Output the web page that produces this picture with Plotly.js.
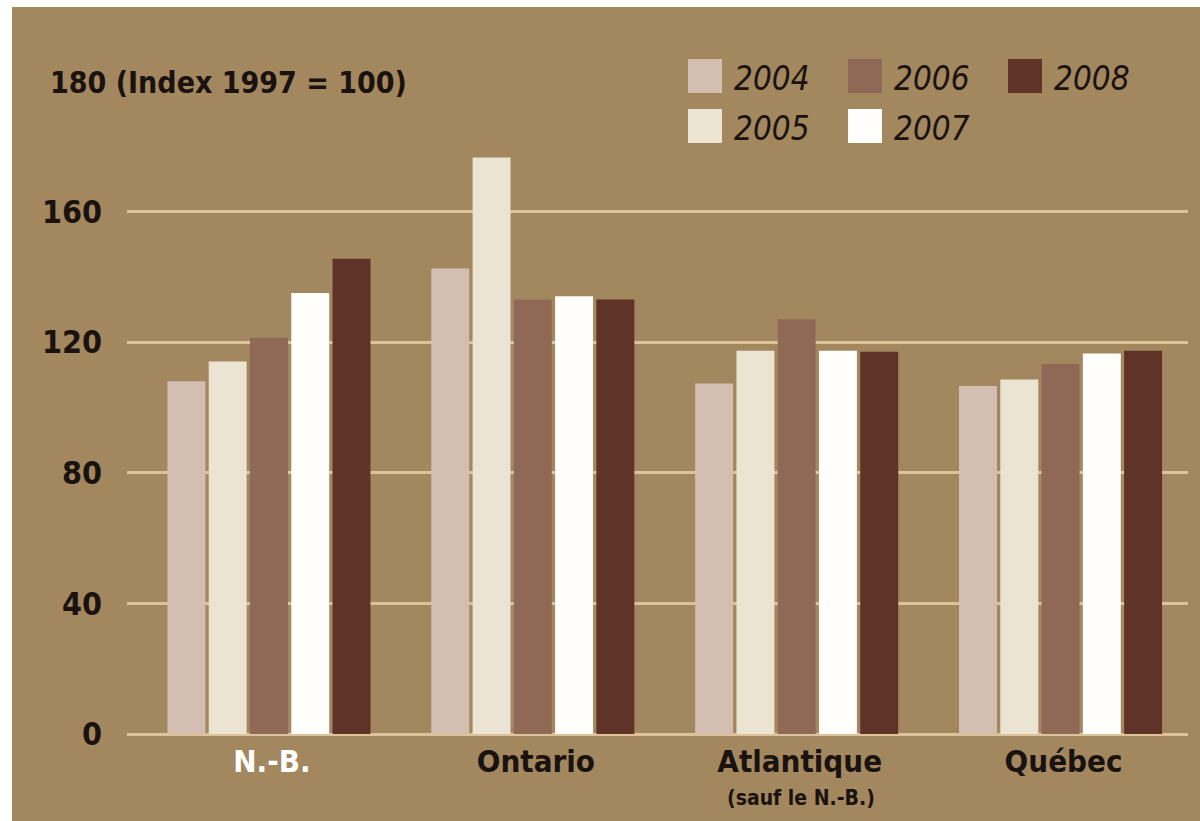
<!DOCTYPE html>
<html>
<head>
<meta charset="utf-8">
<script src="https://cdn.plot.ly/plotly-3.0.1.min.js"></script>
<style>
  html, body { margin: 0; padding: 0; background: #ffffff; }
  #chart { position: absolute; left: 12px; top: 7px; width: 1188px; height: 814px; }
</style>
</head>
<body>
<div id="chart"></div>
<script>
// Index des prix (1997 = 100), par région et par année
const regions = ['N.-B.', 'Ontario', 'Atlantique', 'Québec'];
const regionNotes = ['', '', '(sauf le N.-B.)', ''];
const years = ['2004', '2005', '2006', '2007', '2008'];
const v2004 = [108.0, 142.5, 107.3, 106.5];
const v2005 = [114.0, 176.5, 117.3, 108.5];
const v2006 = [121.3, 133.0, 127.0, 113.3];
const v2007 = [135.0, 134.0, 117.3, 116.5];
const v2008 = [145.5, 133.0, 117.0, 117.3];
const yTicks = [0, 40, 80, 120, 160];
const axisTitle = '180 (Index 1997 = 100)';

const series = [v2004, v2005, v2006, v2007, v2008];
const barColors = ['#d4beb2', '#ebe4d3', '#8f6856', '#fffefa', '#5f3328'];

const FONT = '"Liberation Sans Narrow", "DejaVu Sans Condensed", "Arial Narrow", sans-serif';
const INK = '#1a120e';
const BG = '#a2875f';
const GRID = '#dcc39b';

// plot frame in pixels, inside the chart div
const W = 1188, H = 814;
const M = { l: 115, r: 12, t: 139, b: 87 };
const PW = W - M.l - M.r, PH = H - M.t - M.b;
const px = x => (x - 12 - M.l) / PW;           // page x -> paper x
const py = y => (H - M.b - (y - 7)) / PH;       // page y -> paper y

const xs = regions.map((_, i) => i);

const traces = years.map((yr, k) => ({
  type: 'bar',
  name: yr,
  x: xs,
  y: series[k],
  marker: { color: barColors[k], line: { width: 0 } },
  hoverinfo: 'x+y+name',
  showlegend: false
}));

// first region is highlighted in white
const tickText = regions.map((r, i) =>
  i === 0 ? '<span style="color:#ffffff">' + r + '</span>' : r);

// legend: two rows, filled column by column
const shapes = [];
const annotations = [];
const colX = [688, 848, 1008];
const rowY = [59, 109];
years.forEach((yr, k) => {
  const c = Math.floor(k / 2), r = k % 2;
  const x0 = colX[c], y0 = rowY[r];
  shapes.push({
    type: 'rect', xref: 'paper', yref: 'paper',
    x0: px(x0), x1: px(x0 + 34), y0: py(y0 + 34), y1: py(y0),
    fillcolor: barColors[k], line: { width: 0 }
  });
  annotations.push({
    xref: 'paper', yref: 'paper', x: px(x0 + 44), y: py(y0 + 19),
    xanchor: 'left', yanchor: 'middle', showarrow: false, text: yr,
    font: { family: FONT, size: 33, color: INK, style: 'italic' }
  });
});

// sub-notes under the category labels
regionNotes.forEach((n, i) => {
  if (!n) return;
  annotations.push({
    xref: 'x', yref: 'paper', x: i, y: py(798), xshift: 4,
    xanchor: 'center', yanchor: 'middle', showarrow: false,
    text: '<b>' + n + '</b>',
    font: { family: FONT, size: 21, color: INK }
  });
});

annotations.push({
  xref: 'paper', yref: 'paper', x: px(48), y: py(82),
  xanchor: 'left', yanchor: 'middle', showarrow: false,
  text: '<b>' + axisTitle + '</b>',
  font: { family: FONT, size: 30, color: INK }
});

const layout = {
  width: W, height: H,
  margin: M,
  paper_bgcolor: BG, plot_bgcolor: BG,
  barmode: 'group', bargap: 0.218, bargroupgap: 0.08,
  showlegend: false,
  font: { family: FONT, color: INK },
  xaxis: {
    range: [-0.538, 3.483],
    tickvals: xs, ticktext: tickText,
    ticks: '', showgrid: false, zeroline: false, showline: false,
    ticklabelstandoff: 6, ticklabelshift: 3,
    tickfont: { family: FONT, size: 31, color: INK, weight: 'bold' },
    fixedrange: true
  },
  yaxis: {
    range: [0, 180],
    tickvals: yTicks, ticktext: yTicks.map(String),
    ticks: '', showline: false,
    showgrid: true, gridcolor: GRID, gridwidth: 3,
    zeroline: true, zerolinecolor: GRID, zerolinewidth: 3,
    ticklabelstandoff: 24,
    tickfont: { family: FONT, size: 32, color: INK, weight: 'bold' },
    fixedrange: true
  },
  shapes: shapes,
  annotations: annotations
};

Plotly.newPlot('chart', traces, layout, { displayModeBar: false, staticPlot: true });
</script>
</body>
</html>
